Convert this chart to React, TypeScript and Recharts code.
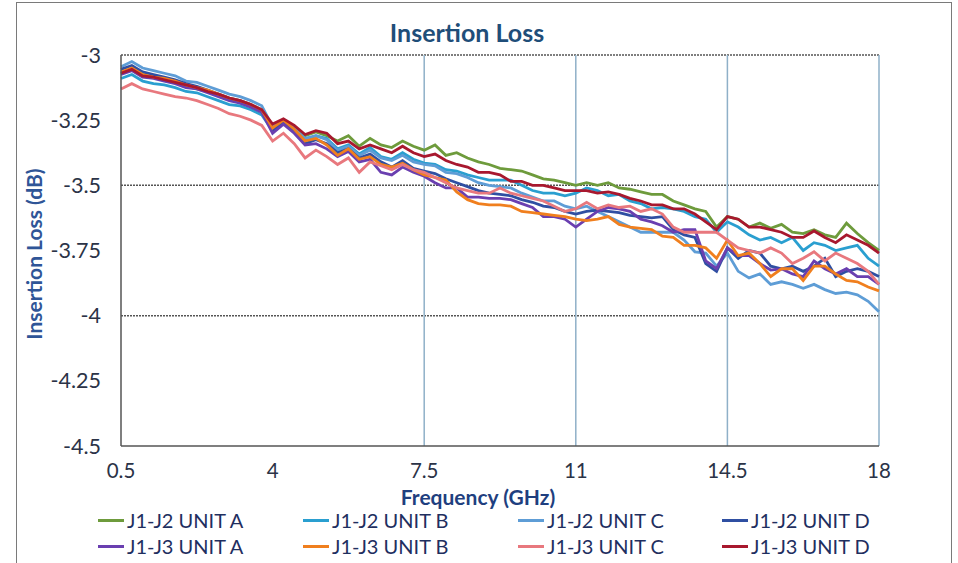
import React from "react";
import { LineChart, Line, XAxis, YAxis, ReferenceLine } from "recharts";

const FREQ = [
  0.5, 0.75, 1, 1.25, 1.5, 1.75, 2, 2.25, 2.5, 2.75, 3, 3.25, 3.5, 3.75, 4, 4.25, 4.5, 4.75,
  5, 5.25, 5.5, 5.75, 6, 6.25, 6.5, 6.75, 7, 7.25, 7.5, 7.75, 8, 8.25, 8.5, 8.75, 9, 9.25,
  9.5, 9.75, 10, 10.25, 10.5, 10.75, 11, 11.25, 11.5, 11.75, 12, 12.25, 12.5, 12.75, 13,
  13.25, 13.5, 13.75, 14, 14.25, 14.5, 14.75, 15, 15.25, 15.5, 15.75, 16, 16.25, 16.5,
  16.75, 17, 17.25, 17.5, 17.75, 18,
];

const J1J2_A = [
  -3.07, -3.055, -3.075, -3.085, -3.095, -3.105, -3.12, -3.13, -3.14, -3.155, -3.17, -3.18, -3.195, -3.215, -3.275, -3.25, -3.28, -3.31,
  -3.295, -3.31, -3.33, -3.31, -3.35, -3.32, -3.345, -3.355, -3.33, -3.35, -3.365, -3.345, -3.385, -3.375, -3.395, -3.41, -3.42, -3.435,
  -3.44, -3.445, -3.46, -3.475, -3.48, -3.49, -3.5, -3.49, -3.5, -3.49, -3.51, -3.515, -3.525, -3.535, -3.535,
  -3.56, -3.575, -3.59, -3.6, -3.66, -3.62, -3.63, -3.66, -3.645, -3.665, -3.65, -3.68, -3.685, -3.67,
  -3.69, -3.7, -3.645, -3.685, -3.72, -3.75,
];
const J1J2_B = [
  -3.09, -3.075, -3.1, -3.11, -3.115, -3.125, -3.14, -3.145, -3.16, -3.175, -3.19, -3.195, -3.21, -3.23, -3.29, -3.255, -3.285, -3.325,
  -3.31, -3.32, -3.36, -3.345, -3.38, -3.355, -3.39, -3.4, -3.375, -3.4, -3.415, -3.42, -3.44, -3.445, -3.46, -3.47, -3.48, -3.48,
  -3.48, -3.5, -3.52, -3.53, -3.53, -3.54, -3.53, -3.51, -3.52, -3.54, -3.535, -3.56, -3.57, -3.59, -3.585,
  -3.59, -3.6, -3.62, -3.63, -3.68, -3.64, -3.66, -3.69, -3.71, -3.7, -3.72, -3.7, -3.75, -3.72,
  -3.73, -3.75, -3.74, -3.73, -3.78, -3.81,
];
const J1J2_C = [
  -3.045, -3.025, -3.05, -3.06, -3.07, -3.08, -3.1, -3.105, -3.12, -3.135, -3.15, -3.16, -3.175, -3.195, -3.275, -3.25, -3.28, -3.32,
  -3.31, -3.325, -3.365, -3.35, -3.385, -3.365, -3.395, -3.405, -3.385, -3.41, -3.42, -3.425, -3.45, -3.455, -3.47, -3.49, -3.5, -3.505,
  -3.51, -3.53, -3.545, -3.56, -3.56, -3.58, -3.59, -3.58, -3.6, -3.62, -3.64, -3.66, -3.68, -3.68, -3.68,
  -3.68, -3.71, -3.755, -3.76, -3.81, -3.76, -3.83, -3.855, -3.84, -3.88, -3.87, -3.88, -3.895, -3.88,
  -3.9, -3.915, -3.91, -3.92, -3.945, -3.985,
];
const J1J2_D = [
  -3.055, -3.04, -3.065, -3.075, -3.085, -3.095, -3.11, -3.12, -3.135, -3.15, -3.165, -3.175, -3.19, -3.21, -3.29, -3.26, -3.295, -3.34,
  -3.325, -3.34, -3.375, -3.36, -3.395, -3.38, -3.41, -3.43, -3.405, -3.435, -3.445, -3.455, -3.475, -3.49, -3.505, -3.52, -3.53, -3.535,
  -3.54, -3.555, -3.565, -3.58, -3.585, -3.6, -3.61, -3.6, -3.595, -3.6, -3.605, -3.615, -3.62, -3.625, -3.62,
  -3.67, -3.69, -3.7, -3.8, -3.83, -3.74, -3.78, -3.75, -3.76, -3.81, -3.82, -3.81, -3.83, -3.81,
  -3.78, -3.85, -3.83, -3.82, -3.83, -3.85,
];
const J1J3_A = [
  -3.075, -3.06, -3.085, -3.09, -3.1, -3.11, -3.125, -3.13, -3.145, -3.16, -3.175, -3.185, -3.2, -3.22, -3.3, -3.265, -3.3, -3.345,
  -3.34, -3.36, -3.39, -3.37, -3.41, -3.4, -3.45, -3.46, -3.43, -3.45, -3.465, -3.49, -3.51, -3.51, -3.545, -3.545, -3.55, -3.55,
  -3.555, -3.57, -3.585, -3.62, -3.62, -3.63, -3.66, -3.63, -3.6, -3.585, -3.59, -3.6, -3.63, -3.64, -3.655,
  -3.68, -3.67, -3.67, -3.79, -3.82, -3.74, -3.77, -3.77, -3.8, -3.825, -3.82, -3.84, -3.85, -3.79,
  -3.82, -3.84, -3.82, -3.85, -3.85, -3.88,
];
const J1J3_B = [
  -3.065, -3.05, -3.075, -3.085, -3.09, -3.1, -3.115, -3.125, -3.135, -3.15, -3.165, -3.175, -3.19, -3.21, -3.28, -3.25, -3.285, -3.33,
  -3.32, -3.345, -3.385, -3.36, -3.4, -3.39, -3.42, -3.43, -3.415, -3.44, -3.46, -3.47, -3.48, -3.525, -3.555, -3.57, -3.575, -3.575,
  -3.58, -3.6, -3.605, -3.61, -3.615, -3.62, -3.63, -3.635, -3.63, -3.62, -3.65, -3.66, -3.665, -3.67, -3.695,
  -3.7, -3.73, -3.73, -3.74, -3.78, -3.71, -3.77, -3.76, -3.8, -3.85, -3.82, -3.82, -3.865, -3.81,
  -3.81, -3.84, -3.865, -3.87, -3.89, -3.905,
];
const J1J3_C = [
  -3.13, -3.11, -3.13, -3.14, -3.15, -3.16, -3.165, -3.175, -3.19, -3.205, -3.225, -3.235, -3.25, -3.27, -3.33, -3.3, -3.34, -3.395,
  -3.365, -3.39, -3.42, -3.395, -3.45, -3.41, -3.425, -3.44, -3.42, -3.44, -3.45, -3.47, -3.49, -3.51, -3.52, -3.53, -3.53, -3.51,
  -3.53, -3.54, -3.55, -3.56, -3.58, -3.6, -3.59, -3.565, -3.59, -3.575, -3.585, -3.58, -3.6, -3.59, -3.61,
  -3.66, -3.68, -3.68, -3.68, -3.68, -3.71, -3.74, -3.75, -3.76, -3.74, -3.76, -3.8, -3.78, -3.755,
  -3.79, -3.76, -3.78, -3.8, -3.83, -3.88,
];
const J1J3_D = [
  -3.07, -3.055, -3.08, -3.085, -3.095, -3.105, -3.115, -3.125, -3.14, -3.15, -3.165, -3.175, -3.19, -3.21, -3.265, -3.245, -3.27, -3.305,
  -3.29, -3.3, -3.34, -3.33, -3.36, -3.345, -3.36, -3.375, -3.35, -3.375, -3.39, -3.38, -3.405, -3.42, -3.43, -3.45, -3.45, -3.46,
  -3.485, -3.485, -3.5, -3.5, -3.51, -3.52, -3.52, -3.52, -3.53, -3.525, -3.535, -3.55, -3.56, -3.575, -3.575,
  -3.59, -3.59, -3.61, -3.64, -3.67, -3.62, -3.63, -3.66, -3.66, -3.67, -3.68, -3.7, -3.7, -3.675,
  -3.7, -3.72, -3.69, -3.71, -3.73, -3.76,
];

const X_TICKS = [0.5, 4, 7.5, 11, 14.5, 18];
const Y_TICKS = [-3, -3.25, -3.5, -3.75, -4, -4.25, -4.5];
const H_GRID = [-3, -3.5, -4];
const V_GRID = [7.5, 11, 14.5, 18];

const SERIES = [
  { key: "a12", name: "J1-J2 UNIT A", values: J1J2_A, color: "#6E9B3C" },
  { key: "b12", name: "J1-J2 UNIT B", values: J1J2_B, color: "#2A9FD0" },
  { key: "c12", name: "J1-J2 UNIT C", values: J1J2_C, color: "#5E9DD6" },
  { key: "d12", name: "J1-J2 UNIT D", values: J1J2_D, color: "#2F4FA2" },
  { key: "a13", name: "J1-J3 UNIT A", values: J1J3_A, color: "#6A3FB0" },
  { key: "b13", name: "J1-J3 UNIT B", values: J1J3_B, color: "#F07F1E" },
  { key: "c13", name: "J1-J3 UNIT C", values: J1J3_C, color: "#E8787E" },
  { key: "d13", name: "J1-J3 UNIT D", values: J1J3_D, color: "#A8182E" },
];

const data = FREQ.map((f, i) => {
  const row: Record<string, number> = { f };
  SERIES.forEach((s) => {
    row[s.key] = s.values[i];
  });
  return row;
});

const FONT = "Lato, 'Open Sans', sans-serif";
const LEGEND_COLS = [98, 303, 518, 722];
const LEGEND_ROWS = [520, 546];

export default function App() {
  return (
    <div
      style={{
        position: "absolute",
        left: 0,
        top: 0,
        width: 958,
        height: 563,
        background: "#fff",
        overflow: "hidden",
        fontFamily: FONT,
      }}
    >
      <div
        style={{
          position: "absolute",
          left: 16,
          top: 2,
          width: 934,
          height: 620,
          border: "1.5px solid #7a7a7a",
        }}
      />
      <LineChart
        width={958}
        height={563}
        data={data}
        margin={{ top: 55, right: 79, left: 0, bottom: 0 }}
      >
        {H_GRID.map((v) => (
          <ReferenceLine key={"h" + v} y={v} stroke="#555" strokeWidth={1.5} strokeDasharray="2 1" />
        ))}
        {V_GRID.map((v) => (
          <ReferenceLine key={"v" + v} x={v} stroke="#8fb0c8" strokeWidth={1.5} />
        ))}
        <XAxis
          dataKey="f"
          type="number"
          domain={[0.5, 18]}
          ticks={X_TICKS}
          height={117}
          tickSize={0}
          tickMargin={17}
          axisLine={{ stroke: "#555", strokeWidth: 1.5 }}
          tick={{ fill: "#2b3347", fontSize: 20.5, fontFamily: FONT }}
          interval={0}
        />
        <YAxis
          type="number"
          domain={[-4.5, -3]}
          ticks={Y_TICKS}
          width={121}
          tickSize={0}
          tickMargin={20}
          axisLine={{ stroke: "#555", strokeWidth: 1.5 }}
          tick={{ fill: "#2b3347", fontSize: 21.5, fontFamily: FONT }}
          interval={0}
        />
        {SERIES.map((s) => (
          <Line
            key={s.key}
            dataKey={s.key}
            name={s.name}
            type="linear"
            stroke={s.color}
            strokeWidth={2.8}
            dot={false}
            isAnimationActive={false}
          />
        ))}
      </LineChart>
      <div
        style={{
          position: "absolute",
          left: 0,
          width: 934,
          top: 16,
          textAlign: "center",
          fontWeight: 700,
          fontSize: 25,
          lineHeight: "32px",
          color: "#1F4E79",
        }}
      >
        Insertion Loss
      </div>
      <div
        style={{
          position: "absolute",
          left: 0,
          width: 956,
          top: 483,
          textAlign: "center",
          fontWeight: 700,
          fontSize: 21,
          lineHeight: "28px",
          color: "#1F3F7F",
        }}
      >
        Frequency (GHz)
      </div>
      <div
        style={{
          position: "absolute",
          left: 33,
          top: 254,
          transform: "translate(-50%, -50%) rotate(-90deg)",
          whiteSpace: "nowrap",
          fontWeight: 700,
          fontSize: 21,
          color: "#2F5597",
        }}
      >
        Insertion Loss (dB)
      </div>
      {SERIES.map((s, i) => {
        const col = LEGEND_COLS[i % 4];
        const row = LEGEND_ROWS[Math.floor(i / 4)];
        return (
          <div
            key={"lg" + s.key}
            style={{
              position: "absolute",
              left: col,
              top: row - 12,
              height: 24,
              display: "flex",
              alignItems: "center",
              whiteSpace: "nowrap",
            }}
          >
            <span style={{ display: "inline-block", width: 26, height: 3, background: s.color, marginRight: 3 }} />
            <span style={{ fontSize: 20, color: "#1F2F5F" }}>{s.name}</span>
          </div>
        );
      })}
    </div>
  );
}
